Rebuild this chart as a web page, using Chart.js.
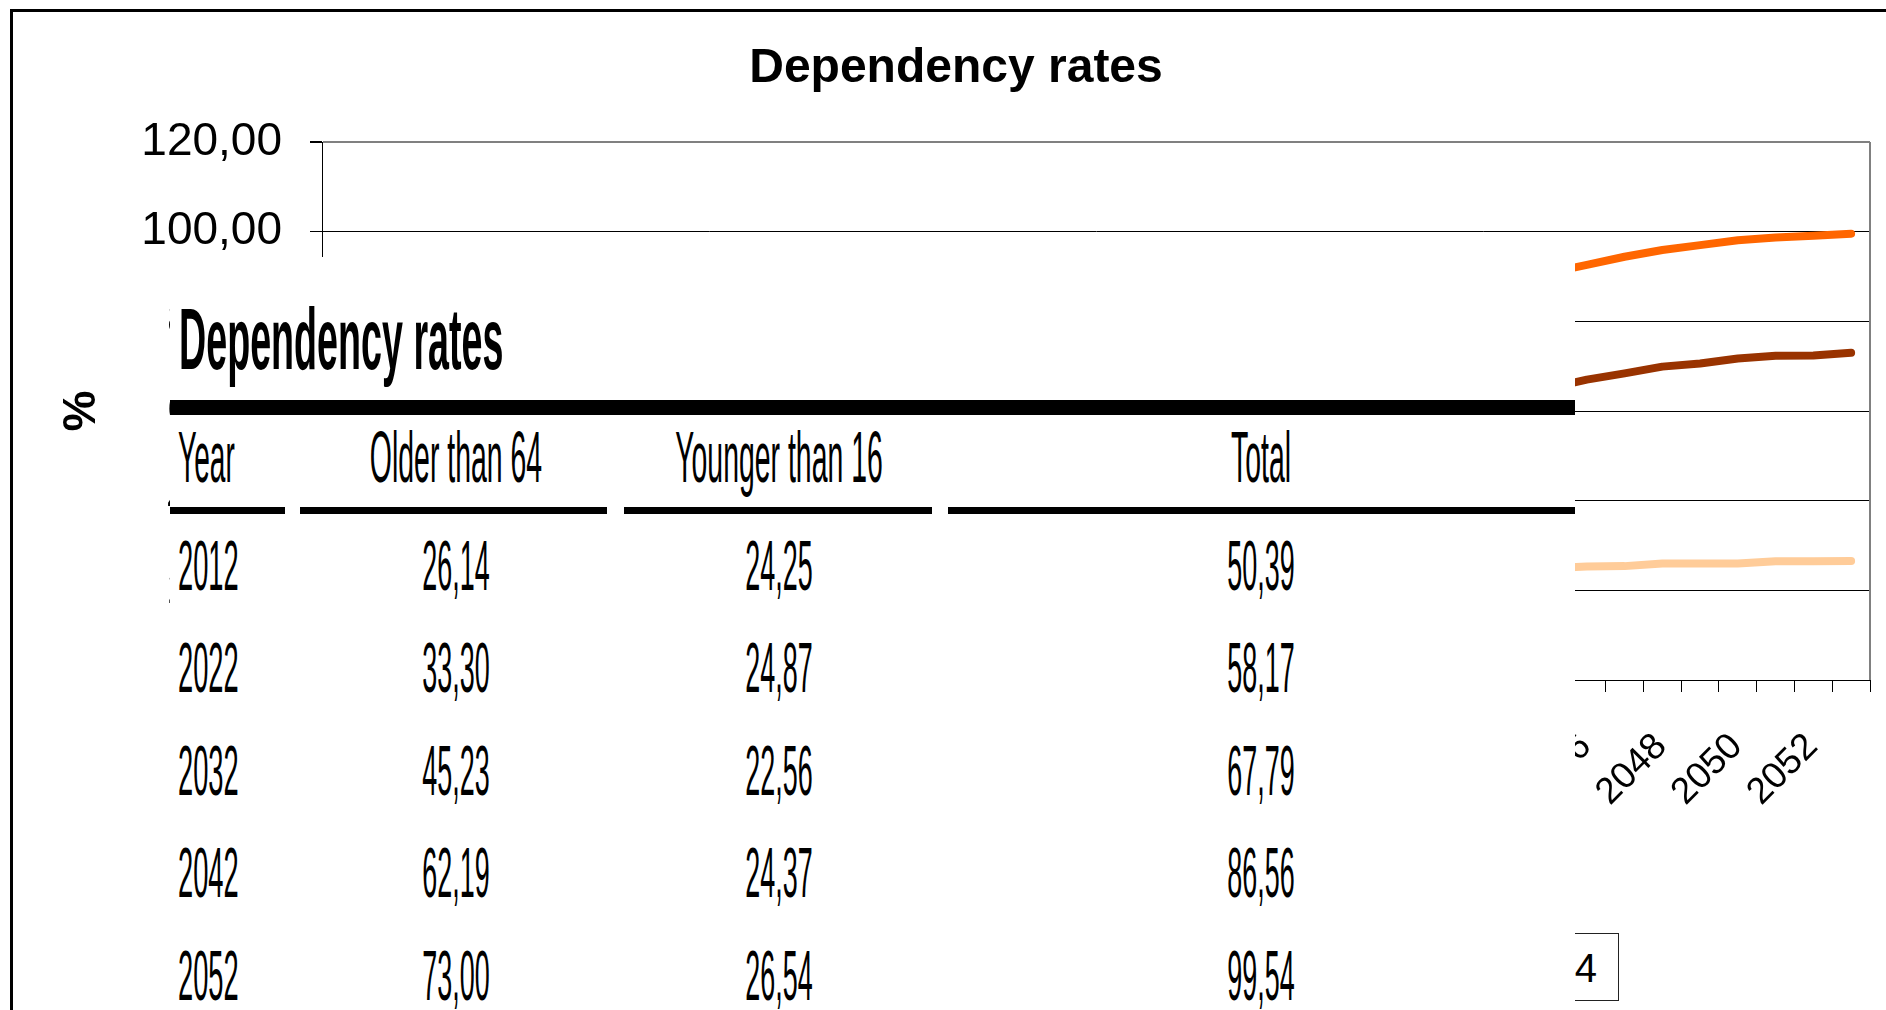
<!DOCTYPE html>
<html><head><meta charset="utf-8">
<script src="https://cdn.jsdelivr.net/npm/chart.js"></script>
<style>
html,body{margin:0;padding:0;background:#fff;overflow:hidden;width:1886px;height:1010px;}
#frame{position:absolute;left:10px;top:9px;width:1960px;height:1100px;border:3px solid #000;box-sizing:border-box;}
#wrap{position:absolute;left:0;top:0;width:1912px;height:1010px;}
#legend{position:absolute;top:933px;height:68px;right:267px;border:1px solid #222;box-sizing:border-box;background:#fff;
  display:flex;align-items:center;padding:2px 21px 0 20px;font-family:'Liberation Sans',Arial,sans-serif;font-size:40px;white-space:nowrap;}
#legend .sw{display:inline-block;width:56px;height:8px;margin:0 12px 0 28px;}
#tbl{position:absolute;left:170px;top:257px;width:1405px;height:800px;background:#fff;}
.t{position:absolute;white-space:nowrap;font-family:'Liberation Sans',Arial,sans-serif;line-height:1;color:#000;}
.rule{position:absolute;background:#000;}
</style>
</head><body>
<div id="frame"></div>
<div id="wrap"><canvas id="c" width="1912" height="1010"></canvas></div>
<div id="legend"></div>
<div id="tbl"></div>
<script>
// ---- chart data ----
const years = [2012,2013,2014,2015,2016,2017,2018,2019,2020,2021,2022,2023,2024,2025,2026,2027,2028,2029,2030,2031,2032,2033,2034,2035,2036,2037,2038,2039,2040,2041,2042,2043,2044,2045,2046,2047,2048,2049,2050,2051,2052];
const olderThan64 = [26.14,26.8,27.4,28.0,28.6,29.3,30.0,30.8,31.6,32.4,33.30,34.3,35.3,36.4,37.5,38.7,39.9,41.1,42.4,43.8,45.23,46.8,48.4,50.1,51.8,53.5,55.3,57.0,58.8,60.5,62.19,63.7,65.1,67.0,68.4,69.9,70.6,71.7,72.3,72.4,73.00];
const youngerThan16 = [24.25,24.4,24.6,24.8,24.9,25.0,25.1,25.1,25.0,24.9,24.87,24.6,24.3,24.0,23.7,23.4,23.1,22.9,22.7,22.6,22.56,22.6,22.7,22.9,23.1,23.3,23.6,23.8,24.0,24.2,24.37,24.6,24.9,25.3,25.4,26.0,26.0,26.0,26.5,26.5,26.54];
const totalRate = [50.39,51.2,52.0,52.8,53.5,54.3,55.1,55.9,56.6,57.3,58.17,58.9,59.6,60.4,61.2,62.1,63.0,64.0,65.1,66.4,67.79,69.4,71.1,73.0,74.9,76.8,78.9,80.8,82.8,84.7,86.56,88.6,90.8,92.6,94.4,95.9,97.0,98.1,98.7,99.1,99.54];
const seriesNames = ['Older than 64','Younger than 16','Total'];
const seriesColors = ['#993300','#FFCC99','#FF6600'];
const yTicks = [0,20,40,60,80,100,120];

// ---- table data ----
const tableTitle = 'Dependency rates';
const tableHeaders = ['Year','Older than 64','Younger than 16','Total'];
const tableYears = ['2012','2022','2032','2042','2052'];
const tableOlder = [26.14,33.30,45.23,62.19,73.00];
const tableYounger = [24.25,24.87,22.56,24.37,26.54];
const tableTotal = [50.39,58.17,67.79,86.56,99.54];

const FF = "'Liberation Sans', Arial, sans-serif";
const fmt = v => Number(v).toFixed(2).replace('.', ',');

const plotBorder = {
  id: 'plotBorder',
  afterDatasetsDraw(chart) {
    const {ctx, chartArea: a} = chart;
    ctx.save();
    ctx.strokeStyle = '#808080'; ctx.lineWidth = 2;
    ctx.beginPath(); ctx.moveTo(a.right, a.top); ctx.lineTo(a.right, a.bottom); ctx.stroke();
    ctx.restore();
  }
};

new Chart(document.getElementById('c'), {
  type: 'line',
  data: {
    labels: years,
    datasets: [
      {label: seriesNames[0], data: olderThan64, borderColor: seriesColors[0]},
      {label: seriesNames[1], data: youngerThan16, borderColor: seriesColors[1]},
      {label: seriesNames[2], data: totalRate, borderColor: seriesColors[2]}
    ].map(d => Object.assign(d, {borderWidth: 8, pointRadius: 0, tension: 0, fill: false, borderCapStyle: 'round', borderJoinStyle: 'round'}))
  },
  options: {
    responsive: false, animation: false, devicePixelRatio: 1,
    layout: {padding: {left: 42, right: 42, top: 0, bottom: 130}},
    plugins: {
      legend: {display: false},
      tooltip: {enabled: false},
      title: {display: true, text: 'Dependency rates', color: '#000',
        font: {family: FF, size: 48, weight: 'bold'}, padding: {top: 40, bottom: 44.4}}
    },
    scales: {
      x: {
        offset: true,
        grid: {offset: true, drawOnChartArea: false, tickLength: 12, tickColor: '#000', color: '#000'},
        border: {color: '#000', width: 1},
        ticks: {autoSkip: false, minRotation: 45, maxRotation: 45, color: '#000',
          font: {family: FF, size: 37}, padding: 33, labelOffset: -39,
          callback: (v, i) => (years[i] % 2 === 0 ? String(years[i]) : '')},
        afterFit(s) { s.height = 200; s.paddingLeft = 0; s.paddingRight = 0; }
      },
      y: {
        min: yTicks[0], max: yTicks[yTicks.length - 1],
        afterBuildTicks(s) { s.ticks = yTicks.map(v => ({value: v})); },
        grid: {color: c => (c.tick && c.tick.value === 120 ? '#808080' : '#000'),
               lineWidth: c => (c.tick && c.tick.value === 120 ? 2 : 1),
               tickLength: 12, tickColor: '#000'},
        border: {color: '#000', width: 1},
        ticks: {color: '#000', font: {family: FF, size: 46}, padding: 28, callback: v => fmt(v)},
        title: {display: true, text: '%', color: '#000', font: {family: FF, size: 46, weight: 'bold'}, padding: {top: 13, bottom: 0}},
        afterFit(s) { s.width = 280; }
      }
    }
  },
  plugins: [plotBorder]
});

// ---- legend (partially hidden under the table) ----
const legend = document.getElementById('legend');
[2,1,0].forEach(i => {
  const sw = document.createElement('span'); sw.className = 'sw'; sw.style.background = seriesColors[i];
  const tx = document.createElement('span'); tx.textContent = seriesNames[i];
  legend.appendChild(sw); legend.appendChild(tx);
});

// ---- overlaid table ----
const tbl = document.getElementById('tbl');
const TX = 170, TY = 257;
function addText(txt, x, baseline, size, bold, sx, align) {
  const el = document.createElement('div');
  el.className = 't';
  el.textContent = txt;
  el.style.fontSize = size + 'px';
  el.style.fontWeight = bold ? '700' : '400';
  el.style.top = (baseline - 0.8465 * size - TY) + 'px';
  el.style.left = (x - TX) + 'px';
  if (align === 'left') { el.style.transformOrigin = '0 0'; el.style.transform = 'scaleX(' + sx + ')'; }
  else { el.style.transform = 'translateX(-50%) scaleX(' + sx + ')'; }
  tbl.appendChild(el);
}
function addRule(x1, x2, y1, y2) {
  const r = document.createElement('div'); r.className = 'rule';
  r.style.left = (x1 - TX) + 'px'; r.style.top = (y1 - TY) + 'px';
  r.style.width = (x2 - x1) + 'px'; r.style.height = (y2 - y1) + 'px';
  tbl.appendChild(r);
}
addText(tableTitle, 179, 369, 88, true, 0.428, 'left');
addRule(170, 1575, 400, 415);
const colX = [178, 456, 779, 1261];
addText(tableHeaders[0], colX[0], 482, 72, false, 0.39, 'left');
for (let k = 1; k < 4; k++) addText(tableHeaders[k], colX[k], 482, 72, false, 0.395, 'center');
[[170,285],[300,607],[624,932],[948,1575]].forEach(s => addRule(s[0], s[1], 507, 514));
const rowBase = [590, 692, 795, 897, 1000];
tableYears.forEach((yr, r) => {
  addText(yr, colX[0], rowBase[r], 70, false, 0.39, 'left');
  addText(fmt(tableOlder[r]), colX[1], rowBase[r], 70, false, 0.385, 'center');
  addText(fmt(tableYounger[r]), colX[2], rowBase[r], 70, false, 0.385, 'center');
  addText(fmt(tableTotal[r]), colX[3], rowBase[r], 70, false, 0.385, 'center');
});
</script>
</body></html>
